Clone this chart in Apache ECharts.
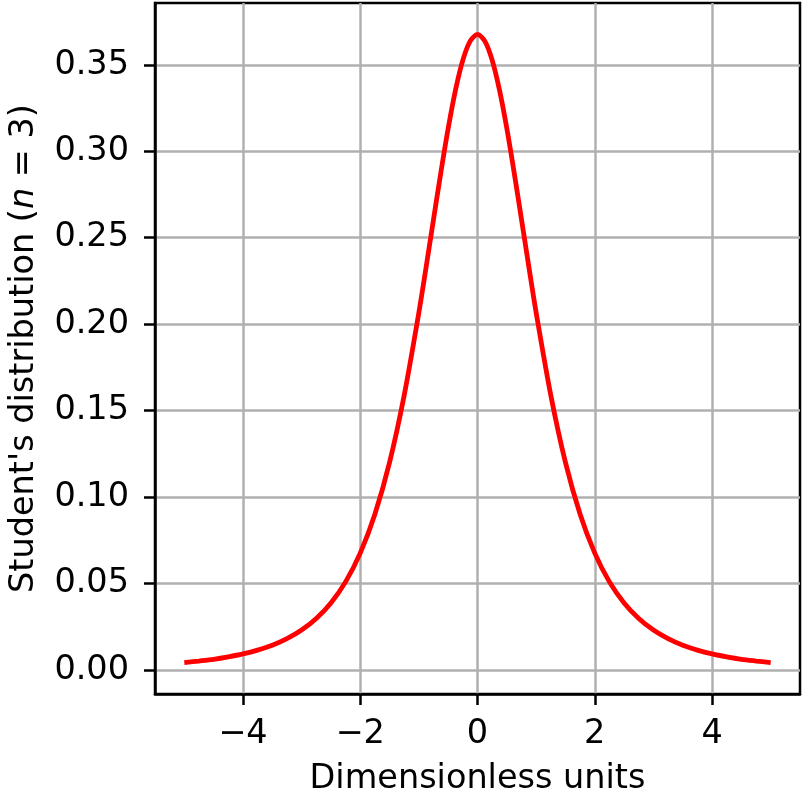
<!DOCTYPE html>
<html>
<head>
<meta charset="utf-8">
<script src="https://cdn.jsdelivr.net/npm/echarts@6/dist/echarts.min.js"></script>
<style>html,body{margin:0;padding:0;background:#fff}#c{width:808px;height:794px}</style>
</head>
<body>
<div id="c"></div>
<script>
// Values (Student's t density, n = 3)
const xValues = [-5,-4.75,-4.5,-4.25,-4,-3.75,-3.5,-3.25,-3,-2.75,-2.5,-2.25,-2,-1.75,-1.5,-1.25,-1,-0.875,-0.75,-0.625,-0.5,-0.375,-0.25,-0.125,0,
  0.125,0.25,0.375,0.5,0.625,0.75,0.875,1,1.25,1.5,1.75,2,2.25,2.5,2.75,3,3.25,3.5,3.75,4,4.25,4.5,4.75,5];
const yValues = [0.0042,0.0051,0.0061,0.0075,0.0092,0.0114,0.0142,0.0180,0.0230,0.0297,0.0387,0.0509,0.0675,0.0900,0.1200,0.1589,0.2067,0.2333,0.2606,0.2877,0.3132,0.3354,0.3527,0.3637,0.3676,
  0.3637,0.3527,0.3354,0.3132,0.2877,0.2606,0.2333,0.2067,0.1589,0.1200,0.0900,0.0675,0.0509,0.0387,0.0297,0.0230,0.0180,0.0142,0.0114,0.0092,0.0075,0.0061,0.0051,0.0042];
const xTicks = [-4,-2,0,2,4];
const yTicks = [0,0.05,0.10,0.15,0.20,0.25,0.30,0.35];
const xLabel = 'Dimensionless units';

const FONT = 'DejaVu Sans';
const FS = 33.5;
const chart = echarts.init(document.getElementById('c'));
const axisCommon = {
  axisLine: {show: true, onZero: false, lineStyle: {color: '#000', width: 2.5}},
  axisTick: {show: true, length: 11, lineStyle: {color: '#000', width: 2.5}},
  splitLine: {show: true, lineStyle: {color: '#b0b0b0', width: 2.5}},
};
chart.setOption({
  animation: false,
  grid: {left: 155, right: 8, top: 3, bottom: 100, show: true, borderColor: '#000', borderWidth: 2.5,
    containLabel: false, outerBoundsMode: 'none'},
  xAxis: Object.assign({}, axisCommon, {
    type: 'value', min: -5.5, max: 5.5,
    axisTick: Object.assign({}, axisCommon.axisTick, {customValues: xTicks}),
    axisLabel: {customValues: xTicks, fontFamily: FONT, fontSize: FS, color: '#000', margin: 23,
      formatter: v => (v < 0 ? '\u2212' + Math.abs(v) : String(v))},
    name: xLabel, nameLocation: 'middle', nameGap: 68,
    nameTextStyle: {fontFamily: FONT, fontSize: FS, color: '#000'}
  }),
  yAxis: Object.assign({}, axisCommon, {
    type: 'value', min: -0.01397, max: 0.38577,
    axisTick: Object.assign({}, axisCommon.axisTick, {customValues: yTicks}),
    axisLabel: {customValues: yTicks, fontFamily: FONT, fontSize: FS, color: '#000', margin: 26,
      formatter: v => v.toFixed(2)},
    name: "Student's distribution ({i|n} = 3)", nameLocation: 'middle', nameGap: 114,
    nameTextStyle: {fontFamily: FONT, fontSize: FS, color: '#000',
      rich: {i: {fontFamily: FONT, fontSize: FS, fontStyle: 'italic', color: '#000'}}}
  }),
  series: [{
    type: 'line', data: xValues.map((x, i) => [x, yValues[i]]),
    smooth: 0.3, showSymbol: false,
    lineStyle: {color: '#ff0000', width: 4.8}
  }]
});
</script>
</body>
</html>
